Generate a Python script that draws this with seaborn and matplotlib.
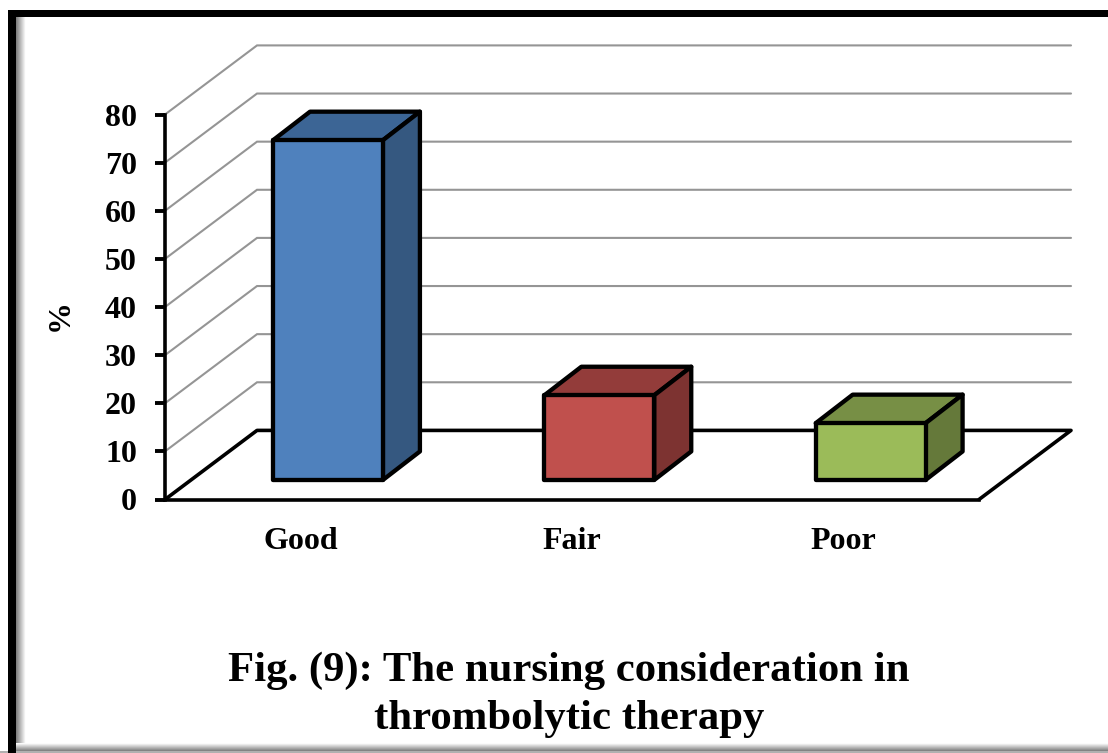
import numpy as np
import matplotlib
matplotlib.use("Agg")
import matplotlib.pyplot as plt
from matplotlib.patches import Polygon, Rectangle
import seaborn as sns

categories = ["Good", "Fair", "Poor"]
percent = [70.6, 17.6, 11.8]
y_ticks = [0, 10, 20, 30, 40, 50, 60, 70, 80]
title_text = "Fig. (9): The nursing consideration in\nthrombolytic therapy"

front_colors = ["#4F81BD", "#C0504D", "#9BBB59"]
top_colors = ["#3C6595", "#933C3A", "#778F45"]
side_colors = ["#355880", "#7D3331", "#65793A"]

sns.set_style("white")
plt.rcParams["font.family"] = ["Liberation Serif", "DejaVu Serif"]
plt.rcParams["font.weight"] = "bold"
plt.rcParams["text.color"] = "black"
plt.rcParams["axes.labelcolor"] = "black"
plt.rcParams["xtick.color"] = "black"
plt.rcParams["ytick.color"] = "black"

W, H = 1108, 753
fig = plt.figure(figsize=(W / 100, H / 100), dpi=100, facecolor="white")

# page frame and soft shadow, in pixel coordinates
bg = fig.add_axes([0, 0, 1, 1], zorder=0)
bg.axis("off")
fade = np.linspace(0.5, 1, 12)
bg.imshow(fade[None, :], extent=(16, 26, H, 17), cmap="gray", vmin=0, vmax=1, aspect="auto")
bg.imshow(fade[::-1][:, None], extent=(16, W, H - 2, H - 10), cmap="gray", vmin=0, vmax=1, aspect="auto")
bg.set_xlim(0, W)
bg.set_ylim(H, 0)
bg.add_patch(Rectangle((0, H - 2), W, 2, color="#b0b0b0", lw=0))
bg.add_patch(Rectangle((8, 9.5), W, 7.5, color="black", lw=0))
bg.add_patch(Rectangle((8, 9.5), 8, H, color="black", lw=0))

# chart axes: the front edge of the floor and the left wall
ax = fig.add_axes([165 / W, (H - 499.5) / H, 814 / W, 385 / H], zorder=1)
ax.set_facecolor("none")

sns.barplot(x=categories, y=percent, hue=categories, palette=front_colors, legend=False,
            width=0.405, edgecolor="black", linewidth=3.1, saturation=1, ax=ax)
ax.set_xlim(-0.5, 2.5)
ax.set_ylim(0, 80)

# depth of the floor and of the bars, in data units
floor_dx, floor_dy = 92 / 271.3, 69 / 4.806
bar_dx, bar_dy = 37 / 271.3, 28.5 / 4.806
shift_x, shift_y = 27.3 / 271.3, 19.5 / 4.806

for v in y_ticks[1:]:
    ax.plot([-0.5, -0.5 + floor_dx, 2.5 + floor_dx], [v, v + floor_dy, v + floor_dy],
            color="#959595", lw=1.5, zorder=0.5, clip_on=False, solid_joinstyle="miter")

ax.plot([-0.5, -0.5 + floor_dx, 2.5 + floor_dx, 2.5], [0, floor_dy, floor_dy, 0],
        color="black", lw=2.6, zorder=0.6, clip_on=False)

for i, bar in enumerate(ax.patches):
    bar.set_x(bar.get_x() + shift_x)
    bar.set_y(shift_y)
    bar.set_zorder(3.2)
    bar.set_clip_on(False)
    bar.set_joinstyle("round")
    x0, x1 = bar.get_x(), bar.get_x() + bar.get_width()
    y0, y1 = shift_y, shift_y + bar.get_height()
    top = [(x0, y1), (x1, y1), (x1 + bar_dx, y1 + bar_dy), (x0 + bar_dx, y1 + bar_dy)]
    side = [(x1, y0), (x1 + bar_dx, y0 + bar_dy), (x1 + bar_dx, y1 + bar_dy), (x1, y1)]
    ax.add_patch(Polygon(top, facecolor=top_colors[i], edgecolor="black", lw=3.1,
                         joinstyle="round", zorder=3, clip_on=False))
    ax.add_patch(Polygon(side, facecolor=side_colors[i], edgecolor="black", lw=3.1,
                         joinstyle="round", zorder=3, clip_on=False))

sns.despine(ax=ax, top=True, right=True)
for name in ["left", "bottom"]:
    ax.spines[name].set_linewidth(2.6)
    ax.spines[name].set_color("black")

ax.set_yticks(y_ticks)
ax.set_yticklabels([str(v) for v in y_ticks])
ax.tick_params(axis="y", length=7.2, width=2.8, color="black", pad=13, labelsize=23, left=True)
ax.tick_params(axis="x", length=0, pad=19.5, labelsize=23, bottom=False)
ax.set_xlabel("")
ax.set_ylabel("%", fontsize=23, fontweight="bold", labelpad=30)
ax.yaxis.set_label_coords((75 - 165) / 814, (499 - 314) / 385)

fig.text(569 / W, 1 - 695 / H, title_text, ha="center", va="center", fontsize=30.8,
         fontweight="bold", linespacing=1.33, color="black")

fig.savefig("out.png", dpi=100)
